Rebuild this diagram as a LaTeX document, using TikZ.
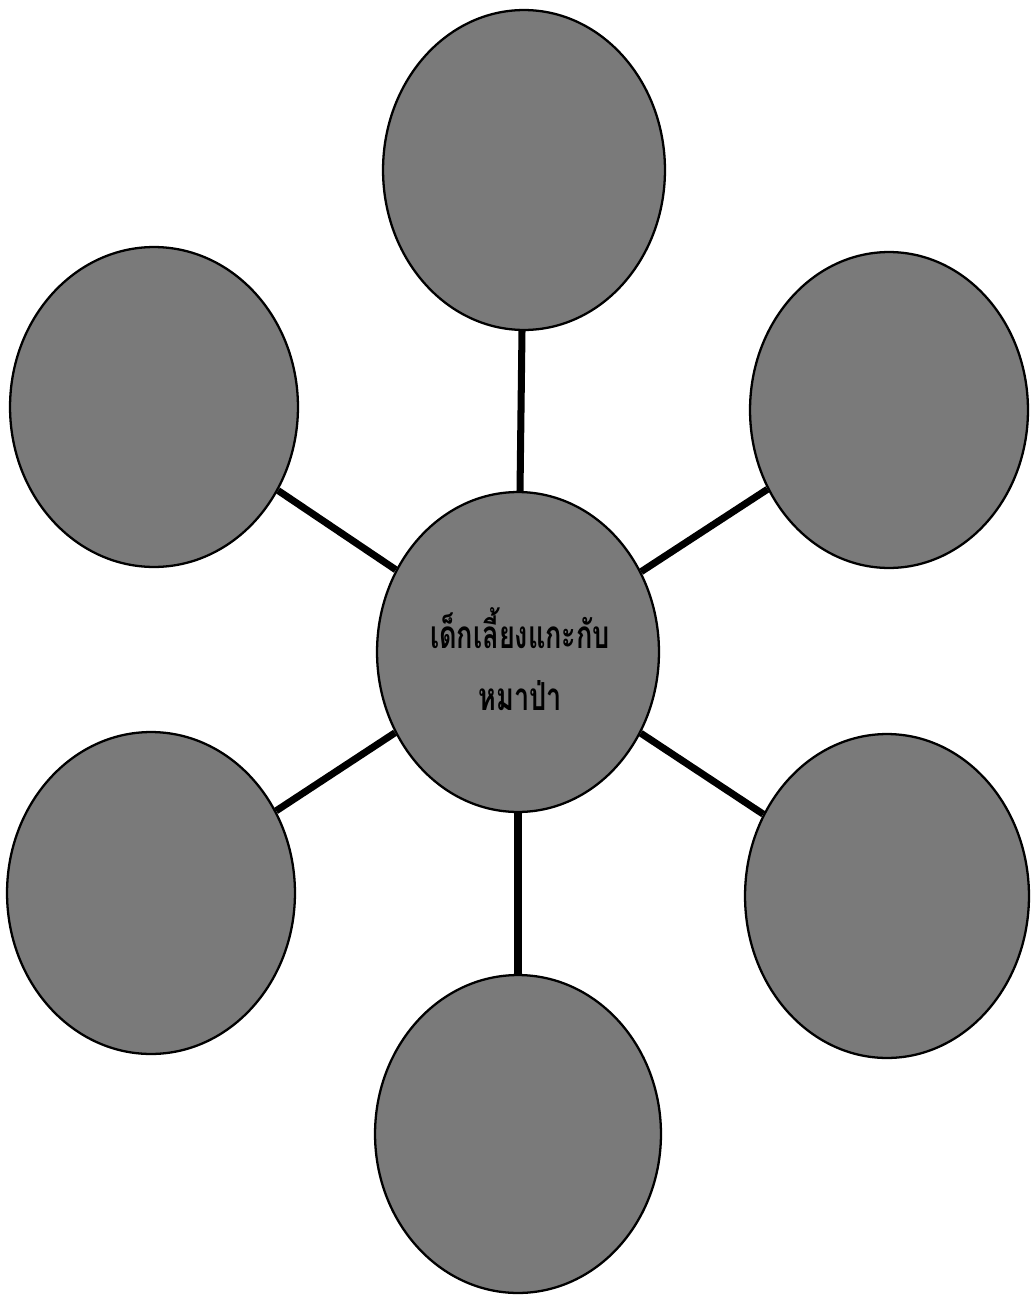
\documentclass[tikz,border=0pt]{standalone}
\usepackage{fontspec}
\newfontfamily\thaifont[Script=Thai,FakeStretch=0.7]{Loma}
\usetikzlibrary{shapes.geometric}
\begin{document}
\begin{tikzpicture}[x=0.02cm,y=-0.02cm,
  bubble/.style={ellipse, draw=black, line width=1.3pt, fill=black!52, inner sep=0pt},
  spoke/.style={line width=4pt, black},
  title/.style={align=center, font=\thaifont\bfseries\fontsize{22}{35}\selectfont, text=black}]
\useasboundingbox (0,0) rectangle (1032,1295);
\node[bubble, minimum width=5.64cm, minimum height=6.4cm] (top) at (524,170) {};
\node[bubble, minimum width=5.76cm, minimum height=6.4cm] (ul) at (154,407) {};
\node[bubble, minimum width=5.56cm, minimum height=6.32cm] (ur) at (889,410) {};
\node[bubble, minimum width=5.64cm, minimum height=6.4cm] (center) at (518,652) {};
\node[bubble, minimum width=5.76cm, minimum height=6.44cm] (ll) at (151,893) {};
\node[bubble, minimum width=5.68cm, minimum height=6.48cm] (lr) at (887,896) {};
\node[bubble, minimum width=5.72cm, minimum height=6.36cm] (bottom) at (518,1134) {};
\node[title] (label) at (520,659) {เด็กเลี้ยงแกะกับ\\หมาป่า};
\draw[spoke] (center) -- (top);
\draw[spoke] (center) -- (ul);
\draw[spoke] (center) -- (ur);
\draw[spoke] (center) -- (ll);
\draw[spoke] (center) -- (lr);
\draw[spoke] (center) -- (bottom);
\end{tikzpicture}
\end{document}
